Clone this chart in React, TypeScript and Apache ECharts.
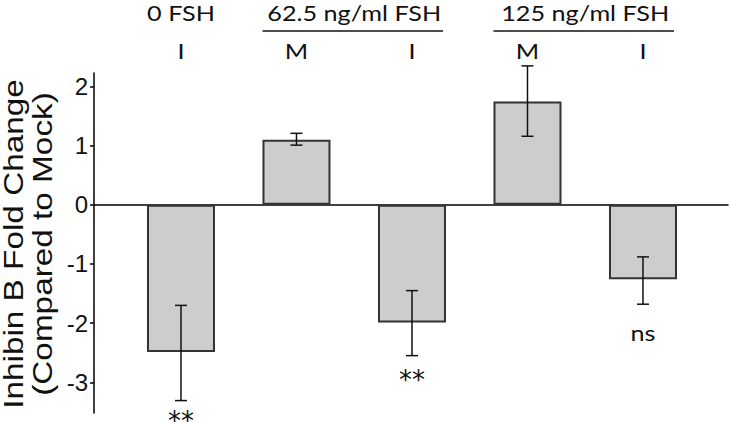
import React, { useEffect, useRef } from "react";
import * as echarts from "echarts";

const categories = ["I", "M", "I", "M", "I"];
const means = [-2.49, 1.1, -1.99, 1.75, -1.26];
const errLow = [-3.31, 1.01, -2.55, 1.16, -1.68];
const errHigh = [-1.7, 1.21, -1.45, 2.35, -0.88];
const annLabels = ["**", "**", "ns"];
const annX = [0, 2, 4];
const annY = [-3.66, -2.96, -2.17];
const groupLabels = ["0 FSH", "62.5 ng/ml FSH", "125 ng/ml FSH"];
const groupStart = [0, 1, 3];
const groupEnd = [0, 2, 4];
const yTicks = [-3, -2, -1, 0, 1, 2];

const HEAD_FONT = "Lato, 'Open Sans', sans-serif";
const STAR_FONT = "'DejaVu Sans', sans-serif";
const AX_FONT = "'Liberation Sans', Arial, sans-serif";
const BAR_W = 68;
const HEAD_SX = 1.2;

export default function App() {
  const ref = useRef<HTMLDivElement>(null);
  useEffect(() => {
    if (!ref.current) return;
    const chart = echarts.init(ref.current, null, { renderer: "svg" });
    const option: any = {
      animation: false,
      grid: { left: 94, right: 2, top: 73, bottom: 9 },
      xAxis: {
        type: "value",
        min: -0.753,
        max: 4.736,
        axisLine: { show: true, onZero: true, lineStyle: { color: "#000", width: 1.5 } },
        axisTick: { show: false },
        axisLabel: { show: false },
        splitLine: { show: false },
      },
      yAxis: {
        type: "value",
        min: -3.52,
        max: 2.23,
        axisLine: { show: true, onZero: false, lineStyle: { color: "#000", width: 1.5 } },
        axisTick: { show: true, length: 4, customValues: yTicks, lineStyle: { color: "#000", width: 1.5 } },
        axisLabel: {
          customValues: yTicks,
          fontSize: 24,
          fontFamily: AX_FONT,
          color: "#111",
          margin: 6,
        },
        splitLine: { show: false },
      },
      series: [
        {
          type: "bar",
          data: means.map((v, i) => [i, v]),
          barWidth: BAR_W,
          itemStyle: { color: "#cdcdcd", borderColor: "#333", borderWidth: 2 },
          z: 2,
        },
        {
          type: "custom",
          data: means.map((_, i) => [i, errLow[i], errHigh[i]]),
          encode: { x: 0, y: [1, 2] },
          z: 5,
          renderItem: (params: any, api: any) => {
            const x = api.value(0);
            const lo = api.coord([x, api.value(1)]);
            const hi = api.coord([x, api.value(2)]);
            const cap = 6;
            const st = { stroke: "#111", lineWidth: 1.5 };
            return {
              type: "group",
              children: [
                { type: "line", shape: { x1: lo[0], y1: lo[1], x2: hi[0], y2: hi[1] }, style: st },
                { type: "line", shape: { x1: lo[0] - cap, y1: lo[1], x2: lo[0] + cap, y2: lo[1] }, style: st },
                { type: "line", shape: { x1: hi[0] - cap, y1: hi[1], x2: hi[0] + cap, y2: hi[1] }, style: st },
              ],
            };
          },
        },
        {
          type: "custom",
          data: annX.map((x, i) => [x, annY[i]]),
          encode: { x: 0, y: 1 },
          clip: false,
          z: 6,
          renderItem: (params: any, api: any) => {
            const p = api.coord([api.value(0), api.value(1)]);
            const label = annLabels[params.dataIndex];
            const isStar = label.indexOf("*") >= 0;
            return {
              type: "text",
              x: p[0],
              y: p[1],
              scaleX: isStar ? 1 : HEAD_SX,
              style: {
                text: label,
                fontSize: isStar ? 26 : 21,
                fontFamily: isStar ? STAR_FONT : HEAD_FONT,
                fill: "#111",
                align: "center",
                verticalAlign: "middle",
              },
            };
          },
        },
      ],
    };
    chart.setOption(option);

    const px = (v: number) => chart.convertToPixel({ xAxisIndex: 0 }, v) as number;
    const graphics: any[] = [];
    groupLabels.forEach((g, i) => {
      const s = px(groupStart[i]);
      const e = px(groupEnd[i]);
      graphics.push({
        type: "text",
        x: (s + e) / 2,
        y: 12.5,
        scaleX: HEAD_SX,
        style: { text: g, fontSize: 21, fontFamily: HEAD_FONT, fill: "#111", align: "center", verticalAlign: "middle" },
      });
      if (groupEnd[i] > groupStart[i]) {
        graphics.push({
          type: "line",
          shape: { x1: s - BAR_W / 2, y1: 31, x2: e + BAR_W / 2 - 3, y2: 31 },
          style: { stroke: "#111", lineWidth: 1.5 },
        });
      }
    });
    categories.forEach((c, i) => {
      graphics.push({
        type: "text",
        x: px(i),
        y: 50.5,
        scaleX: HEAD_SX,
        style: { text: c, fontSize: 21, fontFamily: HEAD_FONT, fill: "#111", align: "center", verticalAlign: "middle" },
      });
    });
    graphics.push({
      type: "text",
      x: 28,
      y: 244,
      rotation: Math.PI / 2,
      scaleX: 1.19,
      style: {
        text: "Inhibin B Fold Change\n(Compared to Mock)",
        fontSize: 28,
        lineHeight: 29.5,
        fontFamily: AX_FONT,
        fill: "#111",
        align: "center",
        verticalAlign: "middle",
      },
    });
    chart.setOption({ graphic: graphics });

    return () => chart.dispose();
  }, []);
  return <div ref={ref} style={{ position: "absolute", left: 0, top: 0, width: 730, height: 422 }} />;
}
